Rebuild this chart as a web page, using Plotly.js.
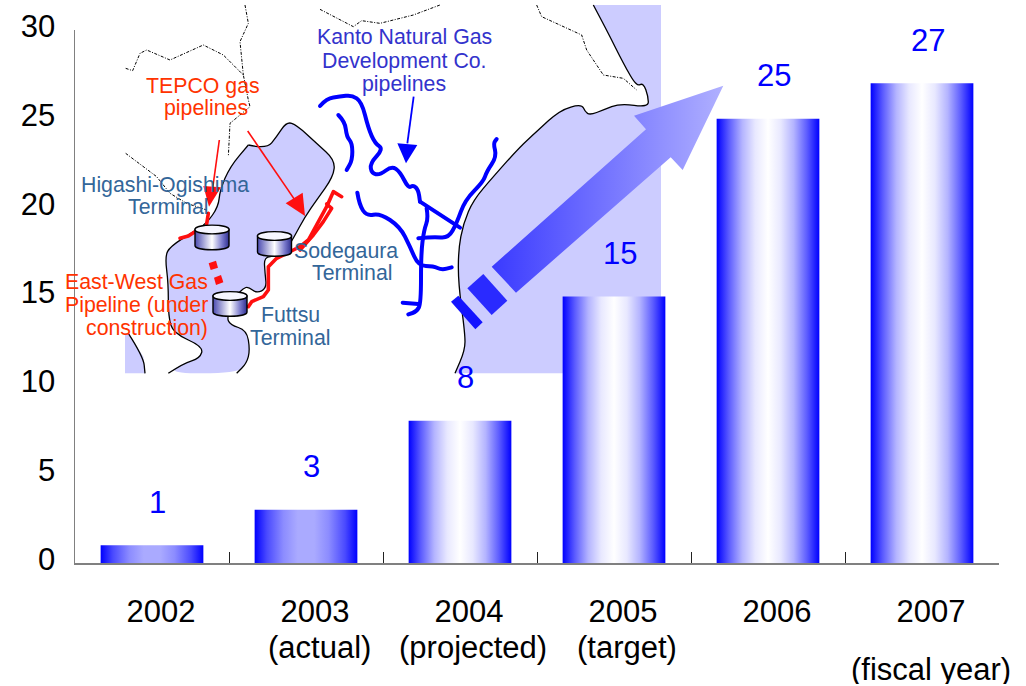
<!DOCTYPE html>
<html>
<head>
<meta charset="utf-8">
<script src="https://cdn.plot.ly/plotly-3.0.1.min.js"></script>
<style>html,body{margin:0;padding:0;background:#fff}</style>
</head>
<body>
<div id="chart" style="width:1026px;height:686px"></div>
<script>
// ---------- chart data ----------
var years = ['2002', '2003', '2004', '2005', '2006', '2007'];
var volumes = [1, 3, 8, 15, 25, 27];
var yearNotes = [null, '(actual)', '(projected)', '(target)', null, null];
var yTicks = [0, 5, 10, 15, 20, 25, 30];
var unitNote = '(fiscal year)';

// ---------- layout constants ----------
var L = 75, R = 27, T = 30, B = 123, W = 1026 - L - R, H = 686 - T - B;
var FONT = '"Liberation Sans", Arial, sans-serif';
function fx(p) { return (p - L) / W; }
function fy(p) { return 1 - (p - T) / H; }
function pt(p) { return fx(p[0]).toFixed(5) + ',' + fy(p[1]).toFixed(5); }

// zoomed sketch coordinates -> page pixels
function z1(a) { return a.map(function (p) { return [60 + p[0] / 3, p[1] / 3]; }); }
function z2(a) { return a.map(function (p) { return [320 + p[0] / 3, p[1] / 3]; }); }

function poly(a, close) {
  return 'M' + a.map(pt).join('L') + (close ? 'Z' : '');
}
function smooth(a, close) {
  var s = 'M' + pt(a[0]);
  for (var i = 1; i < a.length - 1; i++) {
    var m = [(a[i][0] + a[i + 1][0]) / 2, (a[i][1] + a[i + 1][1]) / 2];
    s += 'Q' + pt(a[i]) + ' ' + pt(m);
  }
  s += 'L' + pt(a[a.length - 1]);
  return s + (close ? 'Z' : '');
}

var shapes = [];
function addPath(path, fill, color, width, dash) {
  shapes.push({
    type: 'path', xref: 'paper', yref: 'paper', layer: 'below', path: path,
    fillcolor: fill || 'rgba(0,0,0,0)',
    line: { color: color || 'rgba(0,0,0,0)', width: width || 0, dash: dash || 'solid' }
  });
  return shapes.length - 1;
}

// ---------- map: water ----------
var WATER = '#ccccff';
var bay = z1([[565,435],[620,447],[650,410],[680,365],[710,375],[770,430],[825,480],[820,530],[770,600],[735,650],[700,715],[690,730],[650,770],[612,770],[615,820],[620,865],[590,880],[565,860],[550,865],[530,885],[500,950],[510,975],[560,990],[570,1050],[560,1090],[530,1120]]);
var bayWest = z1([[325,1120],[370,1090],[420,1075],[430,1040],[340,1000],[325,950],[325,850],[315,770],[330,740],[400,695],[440,670],[475,620],[480,570],[510,500],[565,435]]);
var sagami = z1([[205,1000],[250,1070],[255,1120]]);
var ocean = z2([[820,15],[860,90],[910,190],[950,260],[970,248],[985,290],[985,322],[900,310],[850,330],[810,345],[795,335],[785,312],[720,330],[650,395],[600,440],[520,530],[460,600],[430,670],[415,750],[415,850],[435,1000],[435,1050],[405,1120]]);

addPath(smooth(bay.concat(bayWest), true), WATER);
addPath(poly([[125, 333]].concat(sagami).concat([[125, 373.3]]), true), WATER);
addPath(smooth(ocean) + 'L' + pt([661, 373.3]) + 'L' + pt([661, 5]) + 'Z', WATER);
addPath(smooth(bay), null, '#000', 1.3);
addPath(smooth(bayWest), null, '#000', 1.3);
addPath(smooth(sagami), null, '#000', 1.3);
addPath(smooth(ocean), null, '#000', 1.3);

// ---------- map: boundaries ----------
var DASH = '3px,1.5px,1px,1.5px';
[z1([[197,205],[218,212],[240,160],[260,150],[330,180],[430,135],[490,165],[550,225],[565,300],[570,320],[510,370],[505,470]]),
 z1([[555,15],[565,70],[540,125],[550,225]]),
 z1([[197,460],[290,530],[330,580],[380,610],[440,630]]),
 z2([[0,28],[100,80],[125,62],[180,70],[280,45],[360,15]]),
 z2([[650,15],[665,50],[785,105],[800,150],[850,225],[910,235],[950,270]])
].forEach(function (a) { addPath(poly(a), null, '#000', 1, DASH); });

// ---------- map: Kanto Natural Gas pipelines ----------
var BLUE = '#0000ff';
var roundIdx = [];
[[[0,318],[20,295],[60,290],[95,285],[125,305],[145,385],[165,430],[190,447],[150,490],[155,520],[180,525],[215,498],[240,515],[265,565],[280,555],[295,570],[300,605]],
 [[300,605],[420,683]],
 [[55,345],[75,365],[80,410],[97,430],[97,480],[80,510]],
 [[112,578],[118,615],[140,648],[180,640],[240,680],[270,740],[295,798],[340,798],[365,810],[395,802]],
 [[320,625],[325,655],[312,690],[303,760],[303,910],[290,935],[265,943]],
 [[248,908],[295,912]],
 [[295,715],[340,710],[385,715],[410,670],[435,600],[490,545],[500,515],[530,470],[520,430],[530,417]]
].forEach(function (a) { roundIdx.push(addPath(smooth(z2(a)), null, BLUE, 4)); });
addPath(poly(z2([[281,290],[262,430]])), null, BLUE, 1.8);
addPath(poly(z2([[232,430],[292,435],[258,490]]), true), BLUE);

// ---------- map: TEPCO pipelines ----------
var RED = '#ff0f0f';
[[[360,715],[385,708],[405,695]],
 [[445,640],[440,672]],
 [[565,920],[575,905],[610,890],[625,870],[625,800],[650,775],[700,750],[720,740],[745,720],[770,675],[800,620],[820,575],[845,590]],
 [[720,750],[760,705],[790,665],[815,625],[800,612]]
].forEach(function (a) { roundIdx.push(addPath(poly(z1(a)), null, RED, 3.6)); });
addPath(poly(z1([[446,790],[468,782],[474,803],[452,810]]), true), RED);
addPath(poly(z1([[462,833],[483,825],[490,847],[468,855]]), true), RED);

// red leader arrows
addPath(poly(z1([[478,420],[458,565]])), null, RED, 1.6);
addPath(poly(z1([[430,558],[483,562],[447,620]]), true), RED);
addPath(poly(z1([[563,393],[708,605]])), null, RED, 1.6);
addPath(poly(z1([[728,578],[677,610],[735,648]]), true), RED);

// ---------- map: terminals ----------
var cylinderIdx = [];
function cylinder(l, t) {
  var w = 34, h = 25, ry = 4.5, r = l + w, b = t + h;
  var body = 'M' + pt([l, t + ry]) + 'L' + pt([l, b - ry]) +
    'C' + pt([l, b + 1.2]) + ' ' + pt([r, b + 1.2]) + ' ' + pt([r, b - ry]) +
    'L' + pt([r, t + ry]) + 'Z';
  cylinderIdx.push(addPath(body, '#8888dd', '#000', 1.4));
  var top = 'M' + pt([l, t + ry]) +
    'C' + pt([l, t - 1.3]) + ' ' + pt([r, t - 1.3]) + ' ' + pt([r, t + ry]) +
    'C' + pt([r, t + 2 * ry + 1.3]) + ' ' + pt([l, t + 2 * ry + 1.3]) + ' ' + pt([l, t + ry]) + 'Z';
  addPath(top, '#f6f6ff', '#000', 1.4);
}
cylinder(195, 225);
cylinder(257.5, 231.5);
cylinder(213, 291.5);

// ---------- growth arrow ----------
addPath(poly(z2([[393,905],[415,887],[488,967],[466,988]]), true), '#1414ff');
addPath(poly(z2([[442,865],[490,822],[562,902],[515,945]]), true), '#2a2aff');
var arrowIdx = addPath(poly([[491.7,266.7],[516,292.7],[670.7,157.3],[682.7,170],[723.3,85.7],[634,115.7],[646,129.3]], true), '#7777ff');

// ---------- annotations ----------
var annotations = [];
function label(text, x, y, color, anchor, size) {
  annotations.push({
    text: text, xref: 'paper', yref: 'paper', x: fx(x), y: fy(y),
    xanchor: anchor || 'center', yanchor: 'middle', showarrow: false,
    font: { family: FONT, size: size || 21.3, color: color }, borderpad: 0, borderwidth: 0
  });
  return annotations[annotations.length - 1];
}
var MAPRED = '#ff3300', MAPBLUE = '#3333cc', STEEL = '#336699';
label('TEPCO gas', 203, 86, MAPRED);
label('pipelines', 205.5, 108, MAPRED);
label('Kanto Natural Gas', 404, 37.5, MAPBLUE);
label('Development Co.', 404, 61, MAPBLUE);
label('pipelines', 404, 84, MAPBLUE);
label('Higashi-Ogishima', 165, 185, STEEL);
label('Terminal', 168, 207.5, STEEL);
label('Sodegaura', 346, 251, STEEL);
label('Terminal', 352, 272.5, STEEL);
label('East-West Gas', 208, 282, MAPRED, 'right');
label('Pipeline (under', 208, 305, MAPRED, 'right');
label('construction)', 208, 328, MAPRED, 'right');
label('Futtsu', 290, 315, STEEL);
label('Terminal', 290, 338, STEEL);

// value labels above the bars (category axes place annotations by serial number)
years.forEach(function (yr, i) {
  annotations.push({
    text: String(volumes[i]), xref: 'x', yref: 'y', x: i, y: volumes[i], yshift: 43, xshift: 5.5,
    xanchor: 'center', yanchor: 'middle', showarrow: false,
    font: { family: FONT, size: 31, color: BLUE }
  });
});
// second line of the category labels and the unit note
years.forEach(function (yr, i) {
  if (yearNotes[i]) {
    annotations.push({
      text: yearNotes[i], xref: 'x', yref: 'paper', x: i, y: fy(647), xshift: 13,
      xanchor: 'center', yanchor: 'middle', showarrow: false,
      font: { family: FONT, size: 31, color: '#000' }
    });
  }
});
label(unitNote, 931, 669, '#000', 'center', 31).height = 30;

// ---------- plot ----------
var bars = {
  type: 'bar', x: years, y: volumes,
  marker: { color: BLUE, line: { width: 0 } },
  hoverinfo: 'x+y'
};
var layout = {
  width: 1026, height: 686, autosize: false,
  margin: { l: L, r: R, t: T, b: B, pad: 0 },
  paper_bgcolor: '#fff', plot_bgcolor: 'rgba(0,0,0,0)',
  showlegend: false, bargap: 0.333,
  font: { family: FONT, size: 31, color: '#000' },
  xaxis: {
    type: 'category', categoryorder: 'array', categoryarray: years, tickson: 'boundaries',
    range: [-0.5, 5.5], tickangle: 0,
    ticks: 'inside', ticklen: 11, tickwidth: 1, tickcolor: '#222',
    showline: true, linecolor: '#808080', linewidth: 1.5, showgrid: false, zeroline: false,
    tickfont: { family: FONT, size: 31, color: '#000' }, ticklabelstandoff: 20, ticklabelshift: 9, fixedrange: true
  },
  yaxis: {
    range: [0, 30], tickmode: 'array', tickvals: yTicks, ticktext: yTicks.map(String),
    ticks: '', showline: true, linecolor: '#808080', linewidth: 1.5, showgrid: false, zeroline: false,
    tickfont: { family: FONT, size: 31, color: '#000' }, ticklabelstandoff: 12, ticklabelshift: -4, fixedrange: true
  },
  shapes: shapes,
  annotations: annotations
};

// ---------- gradients (Plotly has no gradient fill for bars or shapes) ----------
function makeGradient(defs, id, stops, attrs) {
  var NS = 'http://www.w3.org/2000/svg';
  var g = document.createElementNS(NS, 'linearGradient');
  g.setAttribute('id', id);
  Object.keys(attrs).forEach(function (k) { g.setAttribute(k, attrs[k]); });
  stops.forEach(function (s) {
    var e = document.createElementNS(NS, 'stop');
    e.setAttribute('offset', s[0]);
    e.setAttribute('stop-color', s[1]);
    g.appendChild(e);
  });
  defs.appendChild(g);
}

Plotly.newPlot('chart', [bars], layout, { displayModeBar: false, staticPlot: true }).then(function (gd) {
  var svg = gd.querySelector('svg.main-svg');
  var NS = 'http://www.w3.org/2000/svg';
  var defs = svg.querySelector('defs');
  if (!defs) { defs = document.createElementNS(NS, 'defs'); svg.insertBefore(defs, svg.firstChild); }
  var horiz = { x1: '0', y1: '0', x2: '1', y2: '0' };
  makeGradient(defs, 'barHigh', [[0,'#0000ff'],[0.12,'#5c5cff'],[0.25,'#b4b4ff'],[0.375,'#e8e8ff'],[0.5,'#ffffff'],[0.625,'#e8e8ff'],[0.75,'#b4b4ff'],[0.88,'#5c5cff'],[1,'#0000ff']], horiz);
  makeGradient(defs, 'barLow', [[0,'#0000ff'],[0.12,'#4a4aff'],[0.28,'#8c8cff'],[0.42,'#aaaaff'],[0.58,'#aaaaff'],[0.72,'#8c8cff'],[0.88,'#4a4aff'],[1,'#0000ff']], horiz);
  makeGradient(defs, 'cyl', [[0,'#4a4ab0'],[0.5,'#ffffff'],[0.8,'#7a7acc'],[1,'#2e2e90']], horiz);
  makeGradient(defs, 'arrow', [[0,'#3a3aff'],[1,'#b0b0ff']], {
    gradientUnits: 'userSpaceOnUse', x1: '492', y1: '0', x2: '723', y2: '0'
  });
  gd.querySelectorAll('.barlayer .point path').forEach(function (p, i) {
    p.style.fill = volumes[i] < 5 ? 'url(#barLow)' : 'url(#barHigh)';
  });
  var layerPaths = gd.querySelectorAll('.layer-below .shapelayer path');
  cylinderIdx.forEach(function (i) { if (layerPaths[i]) layerPaths[i].style.fill = 'url(#cyl)'; });
  if (layerPaths[arrowIdx]) layerPaths[arrowIdx].style.fill = 'url(#arrow)';
  roundIdx.forEach(function (i) {
    if (layerPaths[i]) { layerPaths[i].style.strokeLinecap = 'round'; layerPaths[i].style.strokeLinejoin = 'round'; }
  });
});
</script>
</body>
</html>
